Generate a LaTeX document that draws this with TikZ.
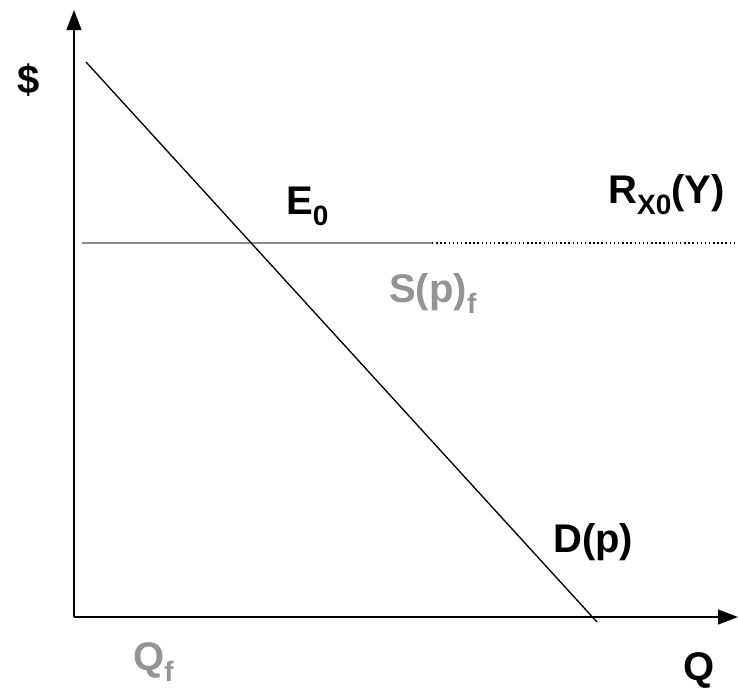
\documentclass[tikz,border=0pt]{standalone}
\usepackage{fontspec}
\setmainfont{Liberation Sans}
\usetikzlibrary{arrows.meta}
\newcommand{\lowsub}[1]{\raisebox{-0.28em}{\fontsize{21}{22}\selectfont #1}}
\tikzset{
  lbl/.style={anchor=base west,inner sep=0pt,font=\fontsize{30}{33}\selectfont\bfseries},
  greylbl/.style={lbl,text=black!42},
  axis/.style={line width=1.6pt,-{Triangle[length=15pt,width=11pt]}}
}
\begin{document}
\begin{tikzpicture}[x=0.75pt,y=-0.75pt]
        \useasboundingbox (0,0) rectangle (738,690);
        % axes
        \coordinate (origin) at (74,617);
        \coordinate (ytop) at (74,10);
        \coordinate (xend) at (738,617);
        \draw[axis] (origin) -- (ytop);
        \draw[axis] (origin) -- (xend);
        % price line R_X0(Y)
        \coordinate (rleft) at (82,243);
        \coordinate (rmid) at (432,243);
        \coordinate (rright) at (735,243);
        \draw[black!45,line width=1.4pt] (rleft) -- (rmid);
        \draw[black,line width=1.1pt,dotted] (rmid) -- (rright);
        % demand
        \coordinate (dtop) at (86,62);
        \coordinate (dbot) at (597,622);
        \draw[line width=1pt] (dtop) -- (dbot);
        % labels
        \node[lbl] (dollar) at (17,93) {\$};
        \node[lbl] (eq) at (286,214) {E\lowsub{0}};
        \node[lbl] (rx) at (608,203) {R\lowsub{X0}(Y)};
        \node[greylbl] (sf) at (389,302) {S(p)\lowsub{f}};
        \node[lbl] (dp) at (553,552) {D(p)};
        \node[greylbl] (qf) at (133,670) {Q\lowsub{f}};
        \node[lbl] (q) at (683,680) {Q};
      \end{tikzpicture}
\end{document}
